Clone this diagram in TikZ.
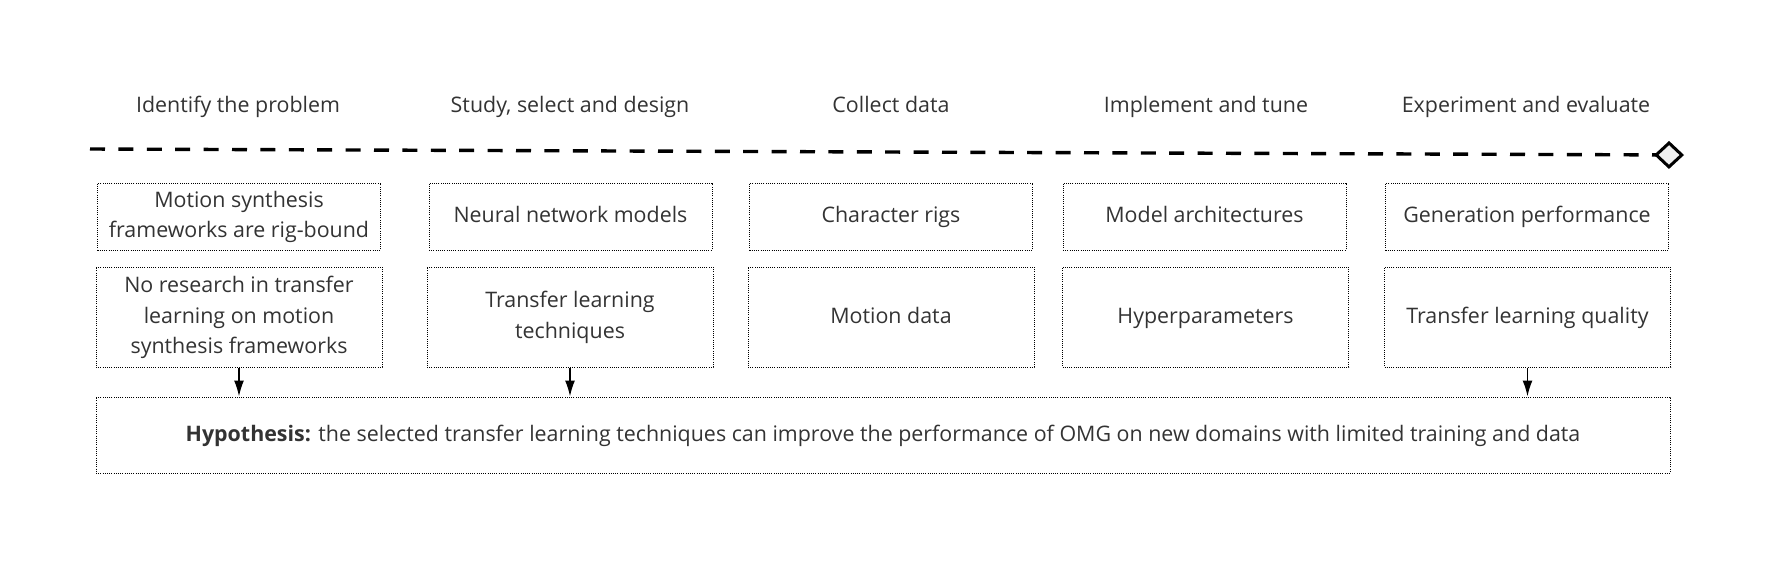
\documentclass[tikz,border=0pt]{standalone}
\usepackage{fontspec}
\setmainfont{Open Sans}
\usetikzlibrary{arrows.meta,calc}
\definecolor{txt}{HTML}{333333}
\definecolor{tipfill}{HTML}{EEEEEE}
\begin{document}
\begin{tikzpicture}[x=0.5pt,y=-0.5pt,
  box/.style={draw=black, line width=0.5pt, dash pattern=on 0.5pt off 0.6pt,
    text=txt, align=center, inner sep=0pt, font=\fontsize{10.7}{15.3}\selectfont},
  rowone/.style={box, minimum width=141.5pt, minimum height=33.5pt},
  rowtwo/.style={box, minimum width=143pt, minimum height=50pt},
  hypbox/.style={box, minimum width=787pt, minimum height=38pt},
  title/.style={text=txt, inner sep=0pt, font=\fontsize{10.7}{15.3}\selectfont},
  arr/.style={-{Latex[length=8pt,width=5pt]}, line width=0.8pt, black},
  timeline/.style={line width=1.7pt, dash pattern=on 7.5pt off 6.7pt,
    -{Diamond[length=15pt,width=14pt,fill=tipfill,line width=1.5pt]}}]
\useasboundingbox (0,0) rectangle (1774,563);
% titles
\node[title] (t1) at (238,106) {\strut Identify the problem};
\node[title] (t2) at (570,106) {\strut Study, select and design};
\node[title] (t3) at (891,106) {\strut Collect data};
\node[title] (t4) at (1206,106) {\strut Implement and tune};
\node[title] (t5) at (1526,106) {\strut Experiment and evaluate};
% timeline
\coordinate (ls) at (90,149);
\coordinate (le) at (1684,155);
\draw[timeline] (ls) -- (le);
% row one
\node[rowone] (a1) at (239,216.5) {\strut Motion synthesis\\frameworks are rig-bound\strut};
\node[rowone] (a2) at (570.5,216.5) {\strut Neural network models};
\node[rowone] (a3) at (891,216.5) {\strut Character rigs};
\node[rowone] (a4) at (1204.5,216.5) {\strut Model architectures};
\node[rowone] (a5) at (1527,216.5) {\strut Generation performance};
% row two
\node[rowtwo] (b1) at (239,317) {\strut No research in transfer\\learning on motion\\synthesis frameworks\strut};
\node[rowtwo] (b2) at (570,317) {\strut Transfer learning\\techniques\strut};
\node[rowtwo] (b3) at (891,317) {\strut Motion data};
\node[rowtwo] (b4) at (1205.5,317) {\strut Hyperparameters};
\node[rowtwo] (b5) at (1527.5,317) {\strut Transfer learning quality};
% hypothesis
\node[hypbox] (h) at (883,435) {\strut\textbf{Hypothesis:} the selected transfer learning techniques can improve the performance of OMG on new domains with limited training and data};
% arrows
\draw[arr] (b1.south) -- (b1.south |- h.north);
\draw[arr] (b2.south) -- (b2.south |- h.north);
\draw[arr] (b5.south) -- (b5.south |- h.north);
\end{tikzpicture}
\end{document}
